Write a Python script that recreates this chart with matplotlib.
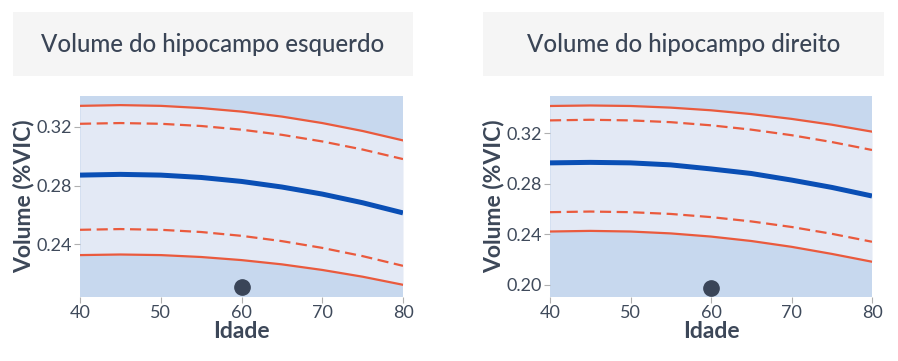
import matplotlib
matplotlib.use("Agg")
import matplotlib.pyplot as plt
from matplotlib.patches import Rectangle

plt.rcParams['font.family'] = ['Lato', 'DejaVu Sans']

idade = [40, 45, 50, 55, 60, 65, 70, 75, 80]

titles = ["Volume do hipocampo esquerdo", "Volume do hipocampo direito"]

# Left hippocampus
esq_sup = [0.3342, 0.3347, 0.3342, 0.3327, 0.3303, 0.3269, 0.3225, 0.3171, 0.3107]
esq_sup_tr = [0.3220, 0.3225, 0.3220, 0.3205, 0.3180, 0.3145, 0.3100, 0.3045, 0.2980]
esq_media = [0.2871, 0.2876, 0.2871, 0.2855, 0.2828, 0.2790, 0.2742, 0.2683, 0.2614]
esq_inf_tr = [0.2499, 0.2504, 0.2499, 0.2484, 0.2458, 0.2422, 0.2376, 0.2320, 0.2254]
esq_inf = [0.2327, 0.2331, 0.2327, 0.2314, 0.2293, 0.2264, 0.2226, 0.2180, 0.2125]
esq_ponto = (60, 0.2107)

# Right hippocampus
dir_sup = [0.3416, 0.3420, 0.3416, 0.3403, 0.3382, 0.3352, 0.3314, 0.3268, 0.3213]
dir_sup_tr = [0.3302, 0.3307, 0.3302, 0.3288, 0.3263, 0.3229, 0.3185, 0.3131, 0.3068]
dir_media = [0.2966, 0.2970, 0.2966, 0.2950, 0.2918, 0.2882, 0.2830, 0.2772, 0.2704]
dir_inf_tr = [0.2576, 0.2581, 0.2576, 0.2562, 0.2537, 0.2503, 0.2459, 0.2405, 0.2342]
dir_inf = [0.2423, 0.2428, 0.2423, 0.2408, 0.2383, 0.2348, 0.2302, 0.2246, 0.2184]
dir_ponto = (60, 0.198)

esq_yticks = [0.24, 0.28, 0.32]
dir_yticks = [0.20, 0.24, 0.28, 0.32]
xticks = [40, 50, 60, 70, 80]

esq_ylim = (0.2042, 0.3409)
dir_ylim = (0.1905, 0.3495)

W, H = 898, 361
fig = plt.figure(figsize=(W / 100, H / 100), dpi=100)

dark_bg = '#c7d8ee'
light_bg = '#e3e9f5'
red = '#ea5a3d'
blue = '#0a4fb5'
text_col = '#3c4758'
tick_col = '#3f4a5b'

panels = [
    dict(ax_px=(80, 403), box_px=(13, 413), title=titles[0], sup=esq_sup, sup_tr=esq_sup_tr,
         media=esq_media, inf_tr=esq_inf_tr, inf=esq_inf, ponto=esq_ponto,
         yticks=esq_yticks, ylim=esq_ylim),
    dict(ax_px=(550, 872), box_px=(483, 884), title=titles[1], sup=dir_sup, sup_tr=dir_sup_tr,
         media=dir_media, inf_tr=dir_inf_tr, inf=dir_inf, ponto=dir_ponto,
         yticks=dir_yticks, ylim=dir_ylim),
]

ax_top, ax_bot = 96, 297
box_top, box_bot = 12, 76

for p in panels:
    x0, x1 = p['ax_px']
    ax = fig.add_axes([x0 / W, (H - ax_bot) / H, (x1 - x0) / W, (ax_bot - ax_top) / H])
    ax.set_facecolor(dark_bg)
    ax.fill_between(idade, p['inf'], p['sup'], color=light_bg, lw=0, zorder=1)
    ax.plot(idade, p['sup'], color=red, lw=1.6, zorder=3)
    ax.plot(idade, p['inf'], color=red, lw=1.6, zorder=3)
    ax.plot(idade, p['sup_tr'], color=red, lw=1.6, ls=(0, (5, 2.5)), zorder=3)
    ax.plot(idade, p['inf_tr'], color=red, lw=1.6, ls=(0, (5, 2.5)), zorder=3)
    ax.plot(idade, p['media'], color=blue, lw=3.6, zorder=4, solid_capstyle='butt')
    ax.plot([p['ponto'][0]], [p['ponto'][1]], 'o', color='#3a4558', ms=11, zorder=5,
            clip_on=False)
    ax.set_xlim(40, 80)
    ax.set_ylim(*p['ylim'])
    ax.set_xticks(xticks)
    ax.set_xticklabels([str(v) for v in xticks])
    ax.set_yticks(p['yticks'])
    ax.set_yticklabels([f"{v:.2f}" for v in p['yticks']])
    for s in ax.spines.values():
        s.set_visible(False)
    ax.tick_params(axis='both', length=4, width=0.8, color='#b0b0b0', labelsize=13,
                   labelcolor=tick_col, pad=2)
    ax.set_xlabel('Idade', fontsize=16.5, fontweight='bold', color=text_col)
    ax.set_ylabel('Volume (%VIC)', fontsize=16.5, fontweight='bold', color=text_col)
    ax.xaxis.set_label_coords(0.5, -0.173)
    ax.xaxis.label.set_va('center')
    ax.yaxis.set_label_coords(-0.176, 0.5)
    ax.yaxis.label.set_va('center')

    bx0, bx1 = p['box_px']
    fig.patches.append(Rectangle((bx0 / W, (H - box_bot) / H), (bx1 - bx0) / W,
                                 (box_bot - box_top) / H, transform=fig.transFigure,
                                 facecolor='#f5f5f5', edgecolor='none', zorder=0))
    fig.text((bx0 + bx1) / 2 / W, (H - 52.3) / H, p['title'], ha='center', va='baseline',
             fontsize=17.3, color='#3a4556', fontweight='medium')

fig.savefig('out.png', dpi=100, facecolor='white')
